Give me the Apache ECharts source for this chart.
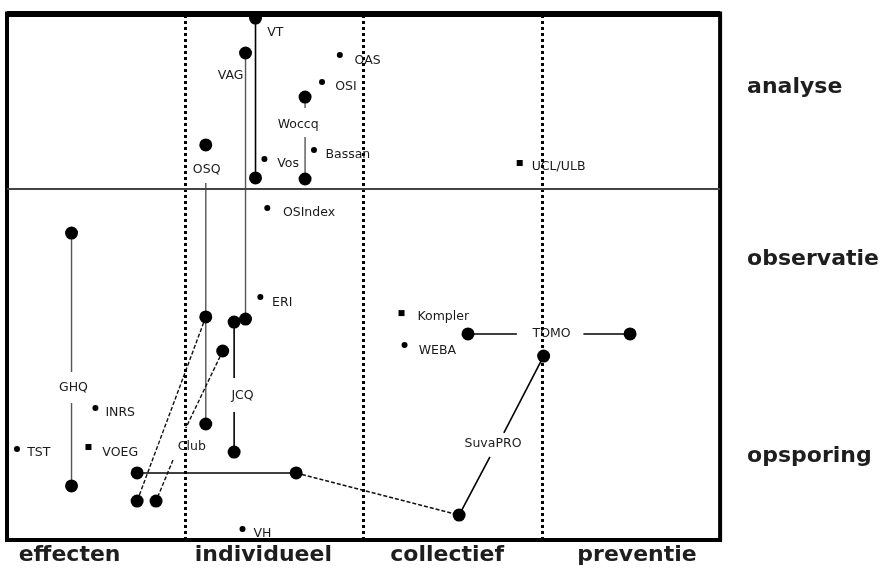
<!DOCTYPE html>
<html><head><meta charset="utf-8">
<script src="https://cdn.jsdelivr.net/npm/echarts@6/dist/echarts.min.js"></script>
<style>html,body{margin:0;padding:0;background:#fff}#c{width:882px;height:570px}</style>
</head><body><div id="c"></div>
<script>
// Column (x) and row (y) categories
const columnNames = ['effecten', 'individueel', 'collectief', 'preventie'];
const columnLabelPos = [0.351, 1.438, 2.469, 3.534];
const rowNames = ['opsporing', 'observatie', 'analyse'];
const rowLabelPos = [0.479, 1.601, 2.581];
const columnBounds = [1, 2, 3];
const rowBounds = [2];

// Points
const bigDots = [[1.394,2.974],[1.394,2.063],[1.338,2.775],[1.338,1.259],[1.672,2.524],[1.672,2.057],
  [1.115,2.251],[1.115,1.271],[1.115,0.661],[1.274,1.242],[1.274,0.501],[1.210,1.077],[0.836,0.222],
  [0.730,0.222],[0.730,0.382],[1.622,0.382],[2.536,0.142],[3.010,1.048],[2.586,1.174],[3.495,1.174],
  [0.362,1.749],[0.362,0.308]];
const smallDots = [[1.867,2.764],[1.767,2.610],[1.444,2.171],[1.722,2.222],[1.460,1.892],[1.421,1.385],
  [2.230,1.111],[0.496,0.752],[0.056,0.519],[1.321,0.063]];
const smallSquares = [[2.876,2.148],[2.213,1.293],[0.457,0.530]];

// Connecting segments
const solidLinks = [
  [[1.394,2.974],[1.394,2.063]],
  [[1.274,1.242],[1.274,0.923]], [[1.274,0.729],[1.274,0.501]],
  [[0.730,0.382],[1.622,0.382]],
  [[2.536,0.142],[2.709,0.473]], [[2.787,0.610],[3.010,1.048]],
  [[2.586,1.174],[2.860,1.174]], [[3.233,1.174],[3.495,1.174]]
];
const grayLinks = [
  [[1.338,2.775],[1.338,1.259]],
  [[1.672,2.524],[1.672,2.462]], [[1.672,2.296],[1.672,2.057]],
  [[1.115,2.034],[1.115,0.661]],
  [[0.362,1.749],[0.362,0.957]], [[0.362,0.781],[0.362,0.308]]
];
const dashedLinks = [
  [[1.115,1.271],[0.730,0.222]],
  [[1.210,1.077],[1.003,0.638]], [[0.931,0.456],[0.836,0.222]],
  [[1.622,0.382],[2.536,0.142]]
];

// Instrument labels
const labelNames = ['VT','VAG','OAS','OSI','Woccq','OSQ','Vos','Bassan','UCL/ULB','OSIndex','ERI',
  'Kompler','WEBA','TOMO','SuvaPRO','JCQ','Club','GHQ','INRS','TST','VOEG','VH'];
const labelCoords = [[1.505,2.889],[1.254,2.644],[2.023,2.729],[1.901,2.581],[1.633,2.365],[1.120,2.108],
  [1.577,2.142],[1.912,2.194],[3.094,2.125],[1.694,1.863],[1.544,1.350],[2.447,1.271],[2.414,1.077],
  [3.055,1.174],[2.726,0.547],[1.321,0.821],[1.037,0.530],[0.373,0.866],[0.635,0.724],[0.178,0.496],
  [0.635,0.496],[1.433,0.034]];

function nearestName(v, pos, names) {
  let best = 0;
  for (let i = 1; i < pos.length; i++) if (Math.abs(pos[i] - v) < Math.abs(pos[best] - v)) best = i;
  return names[best];
}

const series = [];
function addLinks(links, style) {
  links.forEach(seg => series.push({
    type: 'line', data: seg, symbol: 'none', silent: true, z: 3,
    lineStyle: style, animation: false
  }));
}
addLinks(solidLinks, {color: '#000', width: 1.6, type: 'solid'});
addLinks(grayLinks, {color: '#555', width: 1.4, type: 'solid'});
addLinks(dashedLinks, {color: '#111', width: 1.4, type: [4, 2]});

series.push({
  type: 'scatter', data: bigDots, symbol: 'circle', symbolSize: 13, z: 5,
  itemStyle: {color: '#000', opacity: 1}, silent: true, animation: false,
  markLine: {
    silent: true, symbol: 'none', animation: false, label: {show: false},
    data: columnBounds.map(v => ({xAxis: v, lineStyle: {color: '#000', width: 3, type: [3, 3], opacity: 1}}))
      .concat(rowBounds.map(v => ({yAxis: v, lineStyle: {color: '#444', width: 2, type: 'solid', opacity: 1}})))
      .concat([{yAxis: 3, lineStyle: {color: '#000', width: 6, type: 'solid', opacity: 1}}])
  }
});
series.push({
  type: 'scatter', data: smallDots, symbol: 'circle', symbolSize: 6, z: 5,
  itemStyle: {color: '#000', opacity: 1}, silent: true, animation: false
});
series.push({
  type: 'scatter', data: smallSquares, symbol: 'rect', symbolSize: 6, z: 5,
  itemStyle: {color: '#000', opacity: 1}, silent: true, animation: false
});
series.push({
  type: 'scatter', symbolSize: 0, z: 6, silent: true, animation: false,
  itemStyle: {opacity: 1},
  data: labelNames.map((n, i) => ({name: n, value: labelCoords[i]})),
  label: {
    show: true, position: 'inside', formatter: p => p.name,
    fontFamily: 'DejaVu Sans', fontSize: 12.5, color: '#1a1a1a'
  }
});

const axisFont = {fontFamily: 'DejaVu Sans', fontWeight: 'bold', fontSize: 22, color: '#1e1e1e'};
const chart = echarts.init(document.getElementById('c'));
chart.setOption({
  animation: false,
  backgroundColor: '#fff',
  grid: {left: 7, right: 157.5, top: 13.5, bottom: 30, show: true, borderColor: '#000', borderWidth: 4},
  xAxis: {
    type: 'value', min: 0, max: 4,
    axisLine: {show: false}, axisTick: {show: false}, splitLine: {show: false},
    axisLabel: Object.assign({
      customValues: columnLabelPos, margin: 4,
      formatter: v => nearestName(v, columnLabelPos, columnNames)
    }, axisFont)
  },
  yAxis: {
    type: 'value', min: 0, max: 3, position: 'right',
    axisLine: {show: false}, axisTick: {show: false}, splitLine: {show: false},
    axisLabel: Object.assign({
      customValues: rowLabelPos, margin: 27, align: 'left',
      formatter: v => nearestName(v, rowLabelPos, rowNames)
    }, axisFont)
  },
  series: series
});
</script></body></html>
